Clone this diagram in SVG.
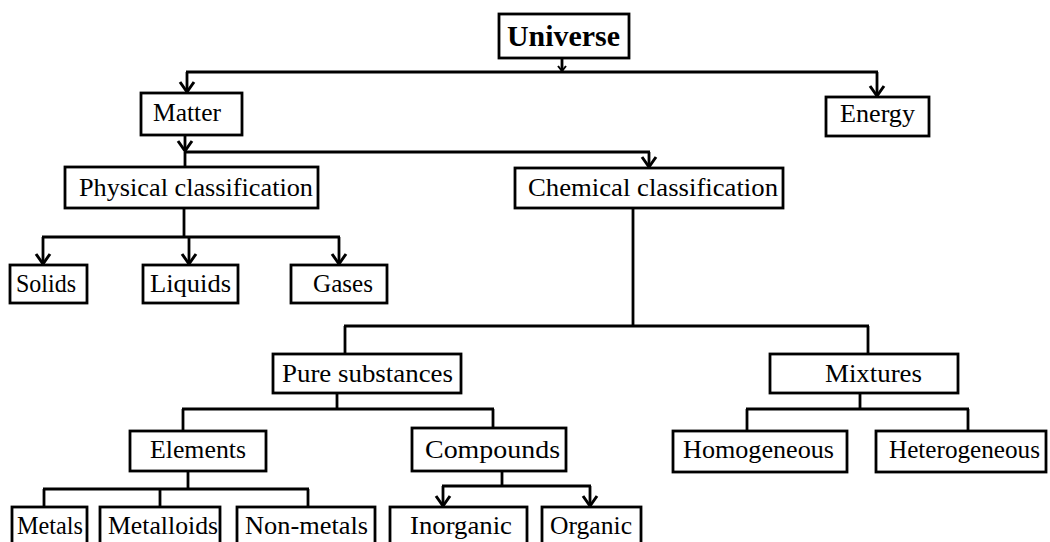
<svg xmlns="http://www.w3.org/2000/svg" width="1050" height="542" viewBox="0 0 1050 542">
<style>
rect{fill:#fff;stroke:#000;stroke-width:2.8}
.c line{stroke:#000;stroke-width:2.8;fill:none}
text{font-family:"Liberation Serif","Times New Roman",serif;font-size:26px;fill:#000}
.b{font-weight:bold;font-size:29px}
</style>
<defs>
<marker id="a" markerUnits="userSpaceOnUse" markerWidth="20" markerHeight="20" refX="0" refY="0" viewBox="-12 -10 14 20" orient="auto" overflow="visible">
<path d="M-10,-7 L0,0 L-10,7" fill="none" stroke="#000" stroke-width="3"/>
</marker>
<marker id="s" markerUnits="userSpaceOnUse" markerWidth="10" markerHeight="10" refX="0" refY="0" viewBox="-6 -5 7 10" orient="auto" overflow="visible">
<path d="M-5,-4 L0,0 L-5,4" fill="none" stroke="#000" stroke-width="2"/>
</marker>
</defs>
<rect x="0" y="0" width="1050" height="542" style="fill:#fff;stroke:none"/>
<g class="c" id="connectors">
<line x1="562" y1="58" x2="562" y2="71" marker-end="url(#s)"/>
<line x1="186" y1="72" x2="878" y2="72"/>
<line x1="187" y1="72" x2="187" y2="92" marker-end="url(#a)"/>
<line x1="877" y1="72" x2="877" y2="96" marker-end="url(#a)"/>
<line x1="185" y1="135" x2="185" y2="151" marker-end="url(#a)"/>
<line x1="185" y1="152" x2="650" y2="152"/>
<line x1="185" y1="152" x2="185" y2="167"/>
<line x1="649" y1="152" x2="649" y2="167" marker-end="url(#a)"/>
<line x1="184" y1="208" x2="184" y2="237"/>
<line x1="42" y1="237" x2="340" y2="237"/>
<line x1="43" y1="237" x2="43" y2="264" marker-end="url(#a)"/>
<line x1="189" y1="237" x2="189" y2="264" marker-end="url(#a)"/>
<line x1="339" y1="237" x2="339" y2="264" marker-end="url(#a)"/>
<line x1="633" y1="208" x2="633" y2="326"/>
<line x1="344" y1="326" x2="869" y2="326"/>
<line x1="345" y1="326" x2="345" y2="354"/>
<line x1="868" y1="326" x2="868" y2="354"/>
<line x1="337" y1="393" x2="337" y2="409"/>
<line x1="182" y1="409" x2="494" y2="409"/>
<line x1="183" y1="409" x2="183" y2="431"/>
<line x1="493" y1="409" x2="493" y2="428"/>
<line x1="860" y1="393" x2="860" y2="409"/>
<line x1="746" y1="409" x2="969" y2="409"/>
<line x1="747" y1="409" x2="747" y2="431"/>
<line x1="968" y1="409" x2="968" y2="431"/>
<line x1="188" y1="471" x2="188" y2="489"/>
<line x1="43" y1="489" x2="309" y2="489"/>
<line x1="44" y1="489" x2="44" y2="507"/>
<line x1="160" y1="489" x2="160" y2="507"/>
<line x1="308" y1="489" x2="308" y2="507"/>
<line x1="502" y1="471" x2="502" y2="486"/>
<line x1="442" y1="486" x2="591" y2="486"/>
<line x1="443" y1="486" x2="443" y2="506" marker-end="url(#a)"/>
<line x1="590" y1="486" x2="590" y2="506" marker-end="url(#a)"/>
</g>
<g id="universe"><rect x="499" y="14" width="130" height="44"/><text class="b" x="507" y="46" textLength="113" lengthAdjust="spacingAndGlyphs">Universe</text></g>
<g id="matter"><rect x="141" y="93" width="101" height="42"/><text x="153" y="121" textLength="68" lengthAdjust="spacingAndGlyphs">Matter</text></g>
<g id="energy"><rect x="826" y="97" width="103" height="39"/><text x="840" y="122" textLength="75" lengthAdjust="spacingAndGlyphs">Energy</text></g>
<g id="physical"><rect x="65" y="167" width="253" height="41"/><text x="79" y="196" textLength="234" lengthAdjust="spacingAndGlyphs">Physical classification</text></g>
<g id="chemical"><rect x="515" y="168" width="268" height="40"/><text x="528" y="196" textLength="250" lengthAdjust="spacingAndGlyphs">Chemical classification</text></g>
<g id="solids"><rect x="10" y="265" width="77" height="38"/><text x="16" y="292" textLength="60" lengthAdjust="spacingAndGlyphs">Solids</text></g>
<g id="liquids"><rect x="143" y="265" width="95" height="38"/><text x="150" y="292" textLength="81" lengthAdjust="spacingAndGlyphs">Liquids</text></g>
<g id="gases"><rect x="291" y="265" width="96" height="38"/><text x="313" y="292" textLength="60" lengthAdjust="spacingAndGlyphs">Gases</text></g>
<g id="pure"><rect x="273" y="354" width="188" height="39"/><text x="282" y="382" textLength="171" lengthAdjust="spacingAndGlyphs">Pure substances</text></g>
<g id="mixtures"><rect x="770" y="354" width="188" height="39"/><text x="825" y="382" textLength="97" lengthAdjust="spacingAndGlyphs">Mixtures</text></g>
<g id="elements"><rect x="130" y="431" width="136" height="40"/><text x="150" y="458" textLength="96" lengthAdjust="spacingAndGlyphs">Elements</text></g>
<g id="compounds"><rect x="412" y="428" width="154" height="43"/><text x="425" y="458" textLength="135" lengthAdjust="spacingAndGlyphs">Compounds</text></g>
<g id="homogeneous"><rect x="673" y="431" width="174" height="41"/><text x="683" y="458" textLength="151" lengthAdjust="spacingAndGlyphs">Homogeneous</text></g>
<g id="heterogeneous"><rect x="876" y="431" width="170" height="41"/><text x="889" y="458" textLength="151" lengthAdjust="spacingAndGlyphs">Heterogeneous</text></g>
<g id="metals"><rect x="12" y="507" width="75" height="45"/><text x="17" y="534" textLength="66" lengthAdjust="spacingAndGlyphs">Metals</text></g>
<g id="metalloids"><rect x="100" y="507" width="120" height="45"/><text x="108" y="534" textLength="110" lengthAdjust="spacingAndGlyphs">Metalloids</text></g>
<g id="nonmetals"><rect x="237" y="507" width="138" height="45"/><text x="245" y="534" textLength="123" lengthAdjust="spacingAndGlyphs">Non-metals</text></g>
<g id="inorganic"><rect x="390" y="507" width="137" height="45"/><text x="410" y="534" textLength="102" lengthAdjust="spacingAndGlyphs">Inorganic</text></g>
<g id="organic"><rect x="542" y="507" width="99" height="45"/><text x="550" y="534" textLength="82" lengthAdjust="spacingAndGlyphs">Organic</text></g>
</svg>
